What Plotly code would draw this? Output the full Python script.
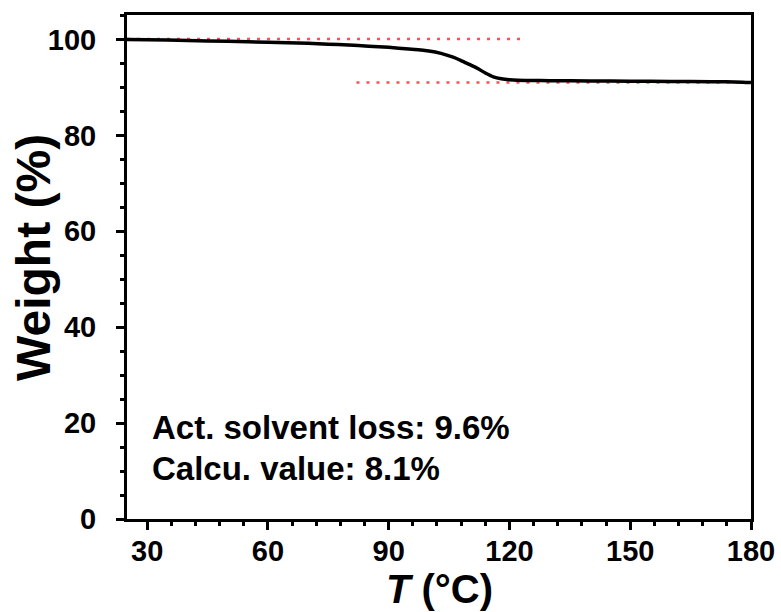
import plotly.graph_objects as go

# TGA curve
temperature = [25, 30, 40, 50, 60, 70, 75, 80, 85, 90, 95, 100, 103, 106, 108, 110,
               112, 114, 116, 118, 120, 122, 125, 130, 140, 150, 160, 170, 178, 180]
weight = [100.0, 99.95, 99.8, 99.6, 99.4, 99.2, 99.0, 98.85, 98.6, 98.35, 98.0, 97.6,
          97.1, 96.3, 95.6, 94.8, 94.0, 93.0, 92.2, 91.8, 91.6, 91.5, 91.45, 91.4,
          91.35, 91.3, 91.25, 91.2, 91.1, 91.0]

# dotted guide lines
upper_T = [25, 123]
upper_W = [100.1, 100.1]
lower_T = [82, 180]
lower_W = [91.0, 91.0]

x_ticks = [30, 60, 90, 120, 150, 180]
y_ticks = [0, 20, 40, 60, 80, 100]

x_title = "<i>T</i> (°C)"
y_title = "Weight (%)"
notes = ["Act. solvent loss: 9.6%", "Calcu. value: 8.1%"]

FONT = "Liberation Sans, Arial, sans-serif"

fig = go.Figure()
guide = dict(color="#ff5050", width=2.5, dash="3px,7px")
fig.add_trace(go.Scatter(x=upper_T, y=upper_W, mode="lines", line=guide, hoverinfo="skip"))
fig.add_trace(go.Scatter(x=lower_T, y=lower_W, mode="lines", line=guide, hoverinfo="skip"))
fig.add_trace(go.Scatter(x=temperature, y=weight, mode="lines",
                         line=dict(color="black", width=3.5, shape="spline", smoothing=0.6)))

axis_common = dict(
    showgrid=False, zeroline=False, showline=True, linecolor="black", linewidth=3,
    mirror=True, ticks="outside", ticklen=8, tickwidth=3, tickcolor="black",
    tickfont=dict(family=FONT, size=29, color="black", weight="bold"),
    automargin=False,
)

fig.update_xaxes(
    range=[25, 180], tickvals=x_ticks, ticktext=[str(v) for v in x_ticks],
    minor=dict(dtick=6, tick0=30, ticks="outside", ticklen=4, tickwidth=2.5, tickcolor="black"),
    ticklabelstandoff=-4,
    **axis_common,
)
fig.update_yaxes(
    range=[0, 105.1], tickvals=y_ticks, ticktext=[str(v) for v in y_ticks],
    minor=dict(dtick=5, tick0=0, ticks="outside", ticklen=4, tickwidth=2.5, tickcolor="black"),
    ticklabelstandoff=14,
    **axis_common,
)

# axis titles
fig.add_annotation(text=x_title, xref="paper", yref="paper", x=0.5016, y=-0.139,
                   xanchor="center", yanchor="middle", showarrow=False,
                   font=dict(family=FONT, size=40, color="black", weight="bold"))
fig.add_annotation(text=y_title, xref="paper", yref="paper", x=-0.149, y=0.518,
                   xanchor="center", yanchor="middle", showarrow=False, textangle=-90,
                   font=dict(family=FONT, size=48, color="black", weight="bold"))

for txt, yp in zip(notes, [0.181, 0.101]):
    fig.add_annotation(text=txt, xref="paper", yref="paper", x=0.037, y=yp,
                       xanchor="left", yanchor="middle", showarrow=False,
                       font=dict(family=FONT, size=33, color="black", weight="bold"))

fig.update_layout(
    width=781, height=612,
    margin=dict(l=127, r=30, t=15, b=93),
    paper_bgcolor="white", plot_bgcolor="white",
    showlegend=False,
)

fig.write_html("out.html", config={"displayModeBar": False},
               post_script="document.body.style.margin='0px';")
